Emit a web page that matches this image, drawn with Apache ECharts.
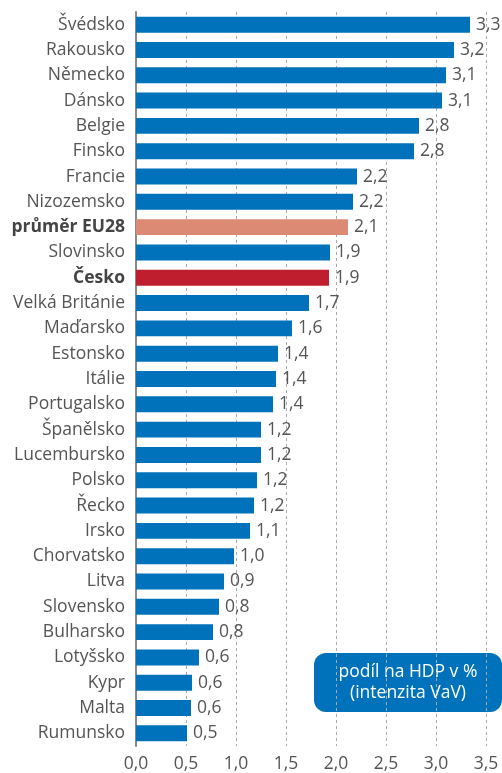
<!DOCTYPE html>
<html>
<head>
<meta charset="utf-8">
<script src="https://cdn.jsdelivr.net/npm/echarts@6/dist/echarts.min.js"></script>
<style>
  html, body { margin: 0; padding: 0; background: #fff; }
  #chart { width: 502px; height: 773px; }
</style>
</head>
<body>
<div id="chart"></div>
<script>
// data
const categories = [
  'Švédsko', 'Rakousko', 'Německo', 'Dánsko', 'Belgie', 'Finsko', 'Francie',
  'Nizozemsko', 'průměr EU28', 'Slovinsko', 'Česko', 'Velká Británie',
  'Maďarsko', 'Estonsko', 'Itálie', 'Portugalsko', 'Španělsko', 'Lucembursko',
  'Polsko', 'Řecko', 'Irsko', 'Chorvatsko', 'Litva', 'Slovensko', 'Bulharsko',
  'Lotyšsko', 'Kypr', 'Malta', 'Rumunsko'
];
const values = [
  3.34, 3.18, 3.10, 3.06, 2.83, 2.78, 2.21,
  2.17, 2.12, 1.94, 1.93, 1.73,
  1.56, 1.42, 1.40, 1.37, 1.25, 1.25,
  1.21, 1.18, 1.14, 0.98, 0.88, 0.83, 0.77,
  0.63, 0.56, 0.55, 0.51
];
const valueLabels = [
  '3,3', '3,2', '3,1', '3,1', '2,8', '2,8', '2,2',
  '2,2', '2,1', '1,9', '1,9', '1,7',
  '1,6', '1,4', '1,4', '1,4', '1,2', '1,2',
  '1,2', '1,2', '1,1', '1,0', '0,9', '0,8', '0,8',
  '0,6', '0,6', '0,6', '0,5'
];
const tickLabels = ['0,0', '0,5', '1,0', '1,5', '2,0', '2,5', '3,0', '3,5'];
const boldCats = ['průměr EU28', 'Česko'];

const blue = '#0072bc';
const barColors = { 'průměr EU28': '#dc8a73', 'Česko': '#be1e2d' };
const font = 'Open Sans';
const fs = 17.5;

const chart = echarts.init(document.getElementById('chart'));

chart.setOption({
  backgroundColor: '#fff',
  animation: false,
  grid: { left: 136, right: 16, top: 12, bottom: 26 },
  xAxis: {
    type: 'value',
    min: 0,
    max: 3.5,
    interval: 0.5,
    axisLine: { show: false },
    axisTick: { show: false },
    axisLabel: {
      color: '#555',
      fontFamily: font,
      fontSize: fs,
      margin: 9,
      formatter: v => tickLabels[Math.round(v / 0.5)]
    },
    splitLine: { lineStyle: { color: '#aaa', type: [3, 3], width: 1 } }
  },
  yAxis: {
    type: 'category',
    inverse: true,
    data: categories,
    axisLine: { lineStyle: { color: '#8a8a8a', width: 2 } },
    axisTick: { show: false },
    axisLabel: {
      margin: 11,
      fontFamily: font,
      fontSize: fs,
      color: '#555',
      formatter: v => boldCats.includes(v) ? '{b|' + v + '}' : v,
      rich: {
        b: { fontFamily: font, fontSize: fs, fontWeight: 'bold', color: '#444' }
      }
    }
  },
  series: [{
    type: 'bar',
    barCategoryGap: '37%',
    data: values.map((v, i) => ({
      value: v,
      itemStyle: { color: barColors[categories[i]] || blue }
    })),
    label: {
      show: true,
      position: 'right',
      distance: 6,
      fontFamily: font,
      fontSize: fs,
      color: '#555',
      formatter: p => valueLabels[p.dataIndex]
    }
  }],
  graphic: [{
    type: 'group',
    left: 314,
    top: 653,
    children: [{
      type: 'rect',
      shape: { x: 0, y: 0, width: 188, height: 59, r: 12 },
      style: { fill: blue }
    }, {
      type: 'text',
      x: 94,
      y: 29.5,
      style: {
        text: 'podíl na HDP v %\n(intenzita VaV)',
        fill: '#fff',
        fontFamily: font,
        fontSize: fs,
        lineHeight: 21,
        align: 'center',
        verticalAlign: 'middle'
      }
    }]
  }]
});
</script>
</body>
</html>
